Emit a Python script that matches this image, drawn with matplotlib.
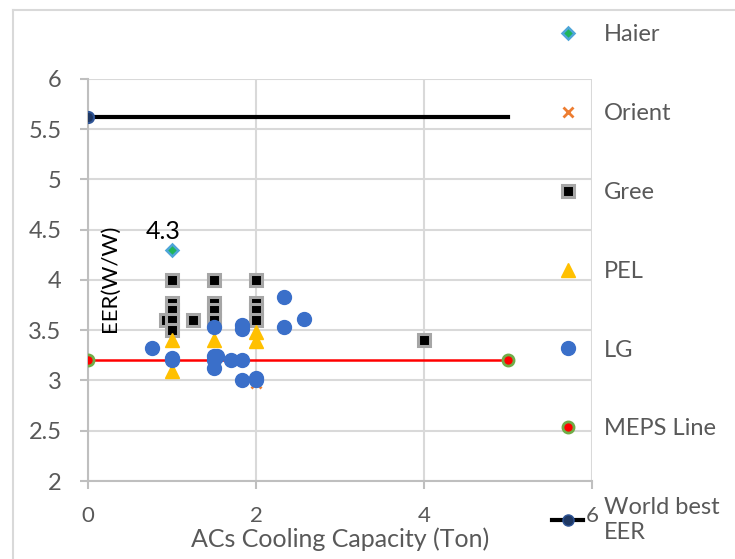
import matplotlib.pyplot as plt
from matplotlib.lines import Line2D

plt.rcParams['font.family'] = ['Lato', 'DejaVu Sans']

# series
haier_x = [1]
haier_y = [4.3]
orient_x = [2]
orient_y = [2.98]
gree_x = [0.93, 1, 1, 1, 1, 1, 1.25, 1.5, 1.5, 1.5, 1.5, 2, 2, 2, 2, 4]
gree_y = [3.6, 4.0, 3.77, 3.7, 3.6, 3.5, 3.6, 4.0, 3.77, 3.7, 3.6, 4.0, 3.77, 3.7, 3.6, 3.4]
pel_x = [1, 1, 1.5, 2, 2]
pel_y = [3.4, 3.09, 3.4, 3.48, 3.39]
lg_x = [0.76, 1, 1, 1.5, 1.5, 1.5, 1.5, 1.54, 1.7, 1.83, 1.83, 1.83, 1.83, 2, 2, 2.33, 2.33, 2.57]
lg_y = [3.32, 3.22, 3.2, 3.53, 3.24, 3.2, 3.12, 3.24, 3.2, 3.2, 3.55, 3.51, 3.0, 3.02, 3.0, 3.83, 3.53, 3.61]
meps_x = [0, 5]
meps_y = [3.2, 3.2]
best_x = [0, 5]
best_y = [5.62, 5.62]

x_ticks = [0, 2, 4, 6]
y_ticks = [2, 2.5, 3, 3.5, 4, 4.5, 5, 5.5, 6]

W, H = 735, 559
fig = plt.figure(figsize=(W / 100, H / 100), dpi=100)
ax = fig.add_axes([88 / W, 1 - 481 / H, (592 - 88) / W, (481 - 79) / H])

grid_c = '#d9d9d9'
text_c = '#595959'

ax.plot(meps_x, meps_y, color='#ff0000', lw=1.8, zorder=2, label='_nolegend_')
ax.plot(best_x, best_y, color='black', lw=3, zorder=2, label='_nolegend_')

ax.plot(haier_x, haier_y, 'D', ms=6, mfc='#1fb55a', mec='#4ea5d9', mew=1.8, ls='none',
        zorder=3, label='Haier')
ax.plot(orient_x, orient_y, 'x', ms=7, mec='#ed7d31', mew=2, ls='none', zorder=3,
        label='Orient')
ax.plot(gree_x, gree_y, 's', ms=8, mfc='black', mec='#a6a6a6', mew=2.2, ls='none',
        zorder=3, label='Gree')
ax.plot(pel_x, pel_y, '^', ms=10, mfc='#ffc000', mec='#ffc000', ls='none', zorder=3,
        label='PEL')
ax.plot(lg_x, lg_y, 'o', ms=10, mfc='#3a6fc9', mec='#3a6fc9', ls='none', zorder=4,
        label='LG')
ax.plot(meps_x, meps_y, 'o', ms=8, mfc='#ff0000', mec='#70ad47', mew=2, ls='none',
        zorder=5, label='MEPS Line')
ax.plot(best_x[:1], best_y[:1], 'o', ms=8, mfc='#1f3864', mec='#2f5597', mew=1.5,
        ls='none', zorder=5)

ax.annotate('4.3', (haier_x[0], haier_y[0]), xytext=(-6, 5), textcoords='offset points',
            fontsize=18, color='black', ha='center', va='bottom')

ax.set_xlim(0, 6)
ax.set_ylim(2, 6)
ax.set_xticks(x_ticks)
ax.set_yticks(y_ticks)
ax.set_yticklabels([f'{v:g}' for v in y_ticks])
ax.grid(True, color=grid_c, lw=1.5)
ax.set_axisbelow(True)
for s in ['top', 'right']:
    ax.spines[s].set_visible(False)
for s in ['left', 'bottom']:
    ax.spines[s].set_color('#bfbfbf')
    ax.spines[s].set_linewidth(1.5)
ax.tick_params(colors='#bfbfbf', labelcolor=text_c, labelsize=17, length=6, width=1.5)
ax.tick_params(axis='y', pad=13)
ax.tick_params(axis='x', pad=12, labelsize=16)

ax.text(0.044, 0.505, 'EER(W/W)', transform=ax.transAxes, rotation=90, ha='center',
        va='center', fontsize=16, color='black')
ax.set_xlabel('ACs Cooling Capacity (Ton)', fontsize=18, color=text_c, labelpad=1)

handles, labels = ax.get_legend_handles_labels()
handles.append(Line2D([], [], color='black', lw=3, marker='o', ms=8, mfc='#1f3864',
                      mec='#2f5597'))
labels.append('World best\nEER')
fig.legend(handles, labels, loc='upper left', bbox_to_anchor=(531 / W, 1 - 3 / H),
           frameon=False, fontsize=17, labelspacing=2.45, handlelength=1.3,
           handletextpad=0.9, labelcolor=text_c)

# outer chart border
fig.add_artist(Line2D([13 / W, 13 / W], [0, 1 - 10 / H], color=grid_c, lw=1.5))
fig.add_artist(Line2D([13 / W, 1], [1 - 10 / H, 1 - 10 / H], color=grid_c, lw=1.5))

fig.savefig('out.png', dpi=100)
